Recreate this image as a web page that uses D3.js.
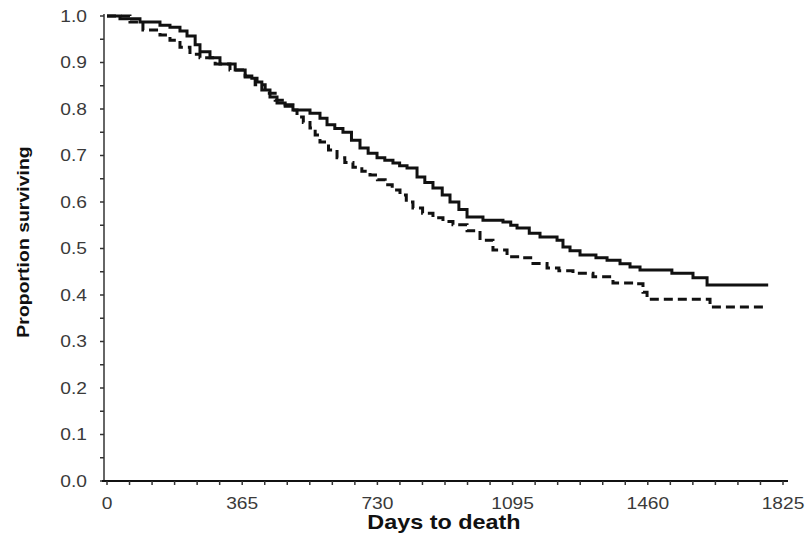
<!DOCTYPE html>
<html>
<head>
<meta charset="utf-8">
<style>
  body { margin: 0; background: #fff; }
  svg { display: block; }
</style>
</head>
<body>
<svg width="806" height="536" font-family="'Liberation Sans', Arial, sans-serif"></svg>

<script src="https://d3js.org/d3.v7.min.js"></script>

<script>

// survival curves (days, proportion surviving)
var solidDays = [0, 35, 89, 143, 170, 197, 216, 238, 251, 278, 305, 346, 373, 391, 405, 418, 440, 459, 481, 502,
  548, 575, 594, 615, 637, 660, 683, 705, 729, 750, 772, 790, 810, 837, 858, 880, 905, 926, 950, 972, 1015, 1069,
  1090, 1107, 1140, 1169, 1215, 1231, 1250, 1277, 1320, 1350, 1385, 1412, 1439, 1525, 1582, 1620, 1785];
var solidProp = [1.0, 0.994, 0.987, 0.98, 0.976, 0.968, 0.957, 0.938, 0.923, 0.91, 0.897, 0.884, 0.871, 0.866, 0.858, 0.841, 0.826, 0.813, 0.806, 0.798,
  0.791, 0.78, 0.766, 0.758, 0.75, 0.733, 0.716, 0.705, 0.695, 0.69, 0.684, 0.678, 0.673, 0.654, 0.642, 0.63, 0.615, 0.6, 0.584, 0.568, 0.561, 0.557,
  0.55, 0.544, 0.533, 0.525, 0.518, 0.503, 0.495, 0.486, 0.48, 0.475, 0.467, 0.46, 0.454, 0.447, 0.437, 0.4215, 0.4215];

var dashDays = [0, 62, 97, 143, 170, 197, 224, 251, 292, 332, 373, 400, 427, 454, 481, 502, 513, 530, 548, 562, 575,
  598, 621, 642, 664, 688, 710, 730, 751, 770, 791, 808, 826, 852, 880, 907, 934, 972, 1007, 1042, 1080, 1115, 1150,
  1188, 1220, 1258, 1312, 1366, 1431, 1447, 1458, 1628, 1776];
var dashProp = [1.0, 0.987, 0.97, 0.959, 0.948, 0.933, 0.918, 0.91, 0.897, 0.884, 0.869, 0.852, 0.834, 0.819, 0.809, 0.798, 0.783, 0.771, 0.759, 0.744, 0.729,
  0.712, 0.695, 0.685, 0.675, 0.666, 0.658, 0.648, 0.637, 0.626, 0.615, 0.6, 0.587, 0.576, 0.566, 0.558, 0.551, 0.538, 0.518, 0.497, 0.482, 0.48, 0.468,
  0.458, 0.452, 0.447, 0.439, 0.426, 0.424, 0.406, 0.391, 0.374, 0.374];

var xTicks = [0, 365, 730, 1095, 1460, 1825];
var yTicks = [0, 0.1, 0.2, 0.3, 0.4, 0.5, 0.6, 0.7, 0.8, 0.9, 1.0];

var svg = d3.select("svg");

var x = d3.scaleLinear().domain([0, 1825]).range([107, 783]);
var y = d3.scaleLinear().domain([0, 1]).range([481, 16]);

var axisX = 104;
var stretch = 1.2; // the original lettering is a bit wide

// y axis: minor ticks every 0.05, labels every 0.1
var gy = svg.append("g").attr("transform", "translate(" + axisX + ",0)");
gy.append("line")
    .attr("y1", y(0)).attr("y2", y(1) - 2)
    .attr("stroke", "#666").attr("stroke-width", 2);
gy.selectAll(".ytick")
    .data(d3.range(0, 21).map(function(i) { return i * 0.05; }))
  .enter().append("line")
    .attr("x1", -4).attr("x2", 0)
    .attr("y1", function(d) { return y(d); })
    .attr("y2", function(d) { return y(d); })
    .attr("stroke", "#333").attr("stroke-width", 1.5);
gy.selectAll("text")
    .data(yTicks)
  .enter().append("text")
    .attr("transform", function(d) { return "translate(-17," + y(d) + ") scale(" + stretch + ",1)"; })
    .attr("dy", "0.36em")
    .attr("text-anchor", "end")
    .attr("font-size", 16)
    .attr("fill", "#3a3a3a")
    .text(d3.format(".1f"));

// x axis: minor ticks every two months, labels every year
var gx = svg.append("g").attr("transform", "translate(0," + y(0) + ")");
gx.append("line")
    .attr("x1", axisX - 2).attr("x2", 788)
    .attr("stroke", "#111").attr("stroke-width", 2);
gx.selectAll(".xtick")
    .data(d3.range(0, 31).map(function(i) { return i * 365 / 6; }))
  .enter().append("line")
    .attr("x1", function(d) { return x(d); })
    .attr("x2", function(d) { return x(d); })
    .attr("y1", 0).attr("y2", 4)
    .attr("stroke", "#333").attr("stroke-width", 1.5);
gx.selectAll("text")
    .data(xTicks)
  .enter().append("text")
    .attr("transform", function(d) { return "translate(" + x(d) + ",28) scale(" + stretch + ",1)"; })
    .attr("text-anchor", "middle")
    .attr("font-size", 16)
    .attr("fill", "#3a3a3a")
    .text(function(d) { return d; });

svg.append("text")
    .attr("transform", "translate(444,529) scale(" + stretch + ",1)")
    .attr("text-anchor", "middle")
    .attr("font-size", 19.5)
    .attr("font-weight", "bold")
    .attr("fill", "#111")
    .text("Days to death");

svg.append("text")
    .attr("transform", "translate(29,242) rotate(-90) scale(1.18,1)")
    .attr("text-anchor", "middle")
    .attr("font-size", 16.5)
    .attr("font-weight", "bold")
    .attr("fill", "#111")
    .text("Proportion surviving");

var line = d3.line()
    .x(function(d) { return x(d[0]); })
    .y(function(d) { return y(d[1]); })
    .curve(d3.curveStepAfter);

svg.append("path")
    .datum(d3.zip(dashDays, dashProp))
    .attr("d", line)
    .attr("fill", "none")
    .attr("stroke", "#111")
    .attr("stroke-width", 3)
    .attr("stroke-dasharray", "9,5");

svg.append("path")
    .datum(d3.zip(solidDays, solidProp))
    .attr("d", line)
    .attr("fill", "none")
    .attr("stroke", "#111")
    .attr("stroke-width", 3);

</script>
</body>
</html>
